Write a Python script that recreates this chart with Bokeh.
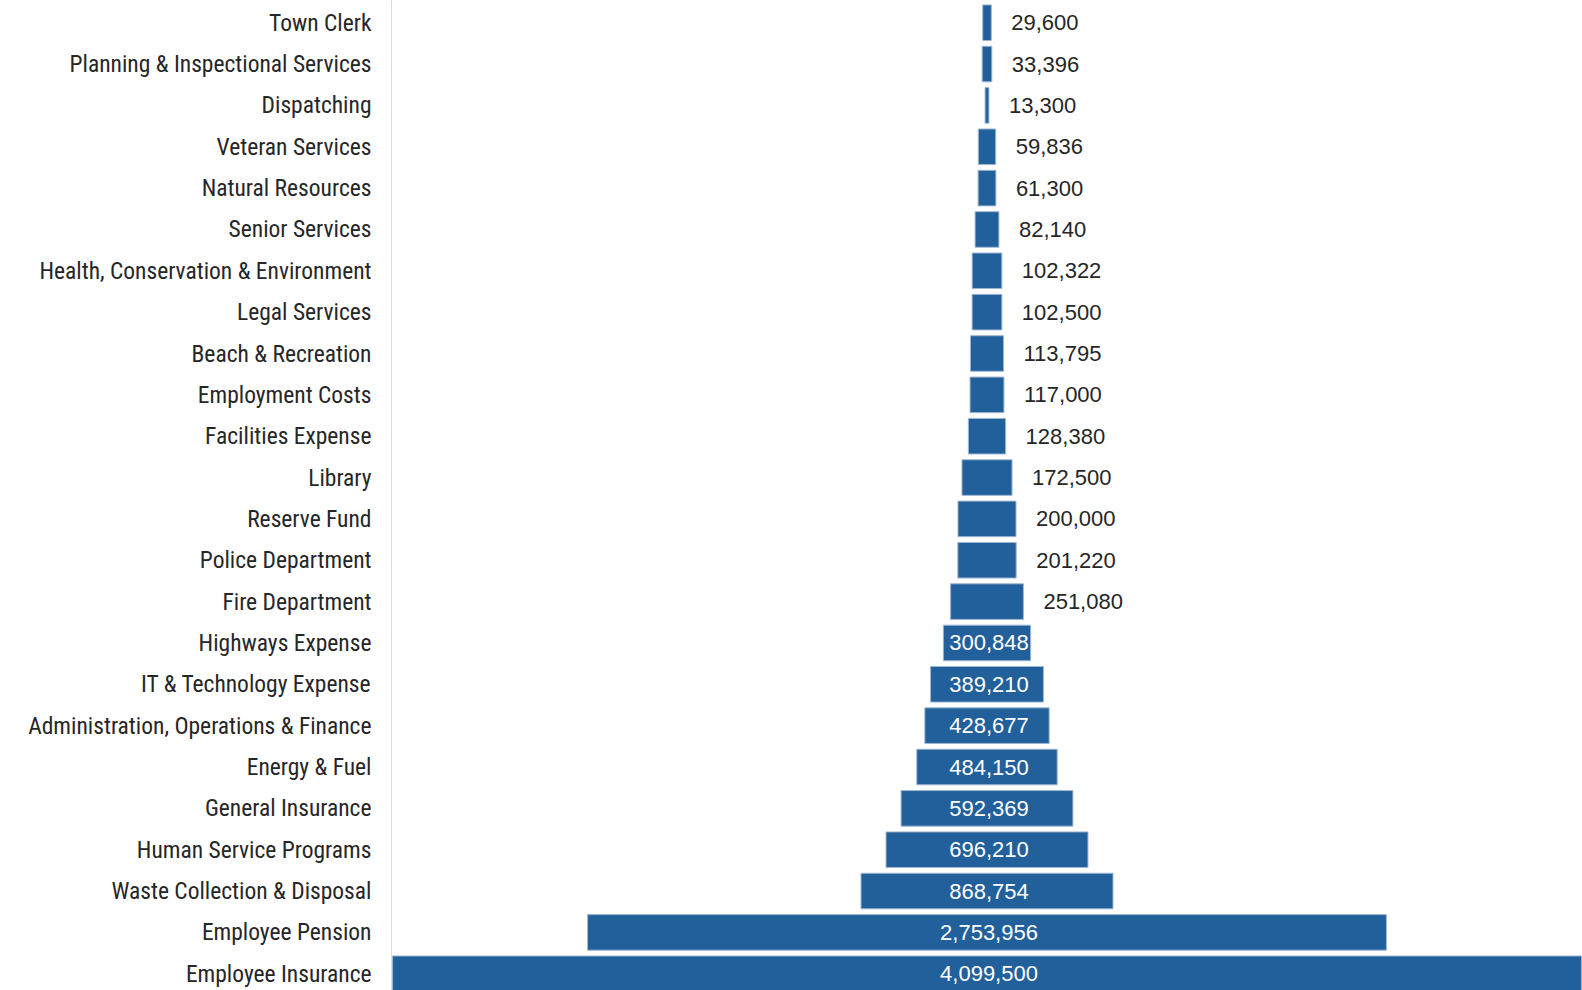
from bokeh.plotting import figure
from bokeh.models import ColumnDataSource, Range1d, FixedTicker, LabelSet
from bokeh.core.properties import value
from bokeh.embed import file_html
from bokeh.resources import INLINE

categories = [
    "Town Clerk", "Planning & Inspectional Services", "Dispatching", "Veteran Services",
    "Natural Resources", "Senior Services", "Health, Conservation & Environment",
    "Legal Services", "Beach & Recreation", "Employment Costs", "Facilities Expense",
    "Library", "Reserve Fund", "Police Department", "Fire Department", "Highways Expense",
    "IT & Technology Expense", "Administration, Operations & Finance", "Energy & Fuel",
    "General Insurance", "Human Service Programs", "Waste Collection & Disposal",
    "Employee Pension", "Employee Insurance",
]
values = [
    29600, 33396, 13300, 59836, 61300, 82140, 102322, 102500, 113795, 117000, 128380,
    172500, 200000, 201220, 251080, 300848, 389210, 428677, 484150, 592369, 696210,
    868754, 2753956, 4099500,
]

BAR = "#22609c"
idx = list(range(len(categories)))
labels = [f"{v:,}" for v in values]
inside = [v >= 300000 for v in values]

src_bars = ColumnDataSource(dict(y=idx, left=[-v / 2 for v in values], right=[v / 2 for v in values]))
src_in = ColumnDataSource(dict(
    x=[0 for v, i in zip(values, inside) if i],
    y=[k for k, i in zip(idx, inside) if i],
    t=[l for l, i in zip(labels, inside) if i],
))
src_out = ColumnDataSource(dict(
    x=[v / 2 for v, i in zip(values, inside) if not i],
    y=[k for k, i in zip(idx, inside) if not i],
    t=[l for l, i in zip(labels, inside) if not i],
))

p = figure(width=1582, height=990, output_backend="svg", toolbar_location=None,
           x_range=Range1d(-2053000, 2053000), y_range=Range1d(23.405, -0.537),
           min_border_left=391, min_border_right=0, min_border_top=0, min_border_bottom=0)
p.hbar(y="y", left="left", right="right", height=0.86, source=src_bars,
       fill_color=BAR, line_color="#9db6d3", line_width=1)

p.add_layout(LabelSet(x="x", y="y", text="t", source=src_in, text_align="center",
                      text_baseline="middle", text_color="white", text_font=value("Liberation Sans"),
                      text_font_size="22px", x_offset=2, y_offset=0))
p.add_layout(LabelSet(x="x", y="y", text="t", source=src_out, text_align="left",
                      text_baseline="middle", text_color="#262626", text_font=value("Liberation Sans"),
                      text_font_size="22px", x_offset=20, y_offset=0))

p.xaxis.visible = False
p.grid.visible = False
p.outline_line_color = None

ya = p.yaxis[0]
ya.ticker = FixedTicker(ticks=idx)
ya.major_label_overrides = {i: c for i, c in zip(idx, categories)}
ya.major_tick_line_color = None
ya.minor_tick_line_color = None
ya.axis_line_color = "#d9d9d9"
ya.axis_line_width = 1
ya.major_label_standoff = 14
ya.major_label_text_font = "Roboto Condensed"
ya.major_label_text_font_size = "23.5px"
ya.major_label_text_color = "#262626"

open("out.html", "w").write(file_html(p, INLINE))
